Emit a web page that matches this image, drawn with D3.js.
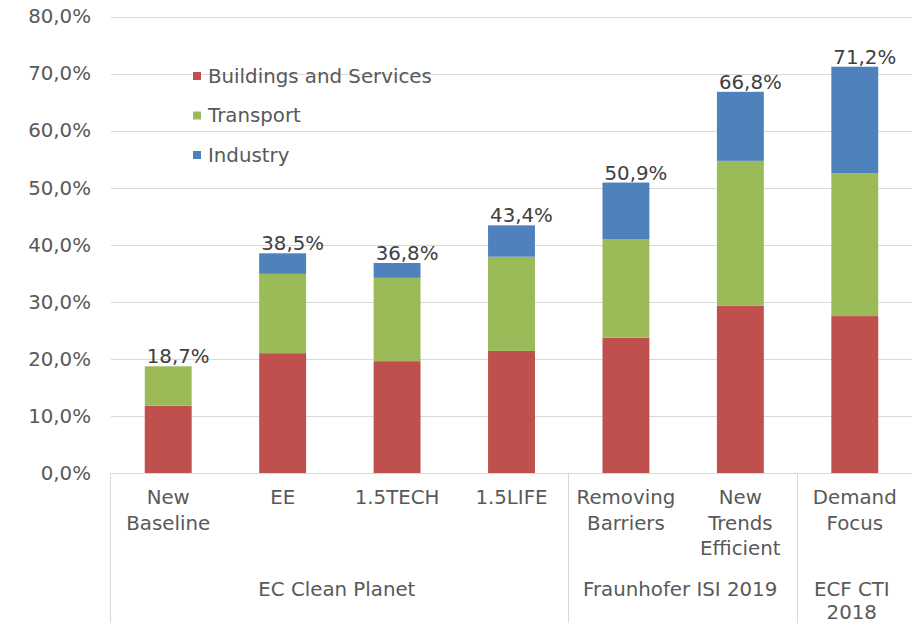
<!DOCTYPE html>
<html>
<head>
<meta charset="utf-8">
<script src="https://cdn.jsdelivr.net/npm/d3@7"></script>
<style>
  html, body { margin: 0; padding: 0; background: #fff; }
  svg { display: block; }
  text { font-family: "DejaVu Sans", Verdana, sans-serif; }
</style>
</head>
<body>
<svg id="chart" width="912" height="623"></svg>
<script>
// Scenarios on the category axis, with their source study
const scenarios = ["New Baseline", "EE", "1.5TECH", "1.5LIFE", "Removing Barriers", "New Trends Efficient", "Demand Focus"];
const scenarioLines = [["New", "Baseline"], ["EE"], ["1.5TECH"], ["1.5LIFE"], ["Removing", "Barriers"], ["New", "Trends", "Efficient"], ["Demand", "Focus"]];
const groups = ["EC Clean Planet", "Fraunhofer ISI 2019", "ECF CTI 2018"];
const groupLines = [["EC Clean Planet"], ["Fraunhofer ISI 2019"], ["ECF CTI", "2018"]];
const groupSizes = [4, 2, 1];

// Savings share by sector (%)
const seriesNames = ["Buildings and Services", "Transport", "Industry"];
const buildings = [11.8, 21.0, 19.6, 21.4, 23.7, 29.3, 27.5];
const transport = [6.9, 13.9, 14.6, 16.5, 17.3, 25.4, 25.0];
const totals = [18.7, 38.5, 36.8, 43.4, 50.9, 66.8, 71.2];
const industry = totals.map((t, i) => +(t - buildings[i] - transport[i]).toFixed(1));

const yTicks = [0, 10, 20, 30, 40, 50, 60, 70, 80];

const colors = ["#c0504d", "#9bbb59", "#4f81bd"];
const textColor = "#595959";
const fontSize = "19.8px";

const svg = d3.select("#chart");
const plot = { left: 111, right: 912, top: 16.5, bottom: 473 };

const x = d3.scaleBand()
  .domain(scenarios)
  .range([plot.left, plot.right])
  .paddingInner(0.59)
  .paddingOuter(0.295);

const y = d3.scaleLinear().domain([0, 80]).range([plot.bottom, plot.top]);

const fmt = v => d3.format(".1f")(v).replace(".", ",") + "%";

// Gridlines
svg.append("g")
  .selectAll("line")
  .data(yTicks)
  .join("line")
  .attr("x1", plot.left).attr("x2", plot.right)
  .attr("y1", d => Math.round(y(d)) + 0.5).attr("y2", d => Math.round(y(d)) + 0.5)
  .attr("stroke", "#d9d9d9").attr("stroke-width", 1);

// Y axis labels
const yAxis = svg.append("g")
  .attr("transform", `translate(${plot.left},0)`)
  .call(d3.axisLeft(y).tickValues(yTicks).tickFormat(fmt).tickSize(0).tickPadding(20));
yAxis.select(".domain").remove();
yAxis.selectAll("text")
  .attr("fill", textColor)
  .style("font-size", fontSize)
  .style("font-family", "'DejaVu Sans', Verdana, sans-serif");

// Stacked bars
const rows = scenarios.map((s, i) => ({
  scenario: s,
  "Buildings and Services": buildings[i],
  "Transport": transport[i],
  "Industry": industry[i]
}));
const stacked = d3.stack().keys(seriesNames)(rows);

svg.append("g")
  .selectAll("g")
  .data(stacked)
  .join("g")
  .attr("fill", (d, i) => colors[i])
  .selectAll("rect")
  .data(d => d)
  .join("rect")
  .attr("x", d => x(d.data.scenario))
  .attr("width", x.bandwidth())
  .attr("y", d => y(d[1]))
  .attr("height", d => y(d[0]) - y(d[1]));

// Total labels above each bar
svg.append("g")
  .selectAll("text")
  .data(scenarios)
  .join("text")
  .attr("x", (d, i) => x(d) + x.bandwidth() / 2 + 10)
  .attr("y", (d, i) => y(totals[i]) - 3)
  .attr("text-anchor", "middle")
  .attr("fill", "#404040")
  .style("font-size", fontSize)
  .text((d, i) => fmt(totals[i]));

// Category axis line
svg.append("line")
  .attr("x1", plot.left).attr("x2", plot.right)
  .attr("y1", plot.bottom + 0.5).attr("y2", plot.bottom + 0.5)
  .attr("stroke", "#d9d9d9");

// Group separators on the multi-level axis
const step = x.step();
const bounds = [0];
groupSizes.forEach(n => bounds.push(bounds[bounds.length - 1] + n));
svg.append("g")
  .selectAll("line")
  .data(bounds.slice(0, -1))
  .join("line")
  .attr("x1", b => Math.round(plot.left + b * step) - 0.5)
  .attr("x2", b => Math.round(plot.left + b * step) - 0.5)
  .attr("y1", plot.bottom)
  .attr("y2", 623)
  .attr("stroke", "#d9d9d9");

// Scenario labels
const catG = svg.append("g").attr("fill", textColor).style("font-size", fontSize);
scenarios.forEach((s, i) => {
  const t = catG.append("text")
    .attr("x", x(s) + x.bandwidth() / 2)
    .attr("y", 504)
    .attr("text-anchor", "middle");
  scenarioLines[i].forEach((ln, k) => {
    t.append("tspan").attr("x", x(s) + x.bandwidth() / 2).attr("dy", k === 0 ? 0 : 25.5).text(ln);
  });
});

// Source study labels
groups.forEach((g, i) => {
  const cx = plot.left + (bounds[i] + bounds[i + 1]) / 2 * step - 3;
  const t = catG.append("text")
    .attr("x", cx)
    .attr("y", 596)
    .attr("text-anchor", "middle");
  groupLines[i].forEach((ln, k) => {
    t.append("tspan").attr("x", cx).attr("dy", k === 0 ? 0 : 23).text(ln);
  });
});

// Legend
const legend = svg.append("g").attr("transform", "translate(193,76)");
seriesNames.forEach((name, i) => {
  const row = legend.append("g").attr("transform", `translate(0,${i * 39.5})`);
  row.append("rect").attr("x", 0).attr("y", -4).attr("width", 8).attr("height", 8).attr("fill", colors[i]);
  row.append("text")
    .attr("x", 15).attr("y", 0).attr("dy", "0.35em")
    .attr("fill", textColor)
    .style("font-size", fontSize)
    .text(name);
});
</script>
</body>
</html>
